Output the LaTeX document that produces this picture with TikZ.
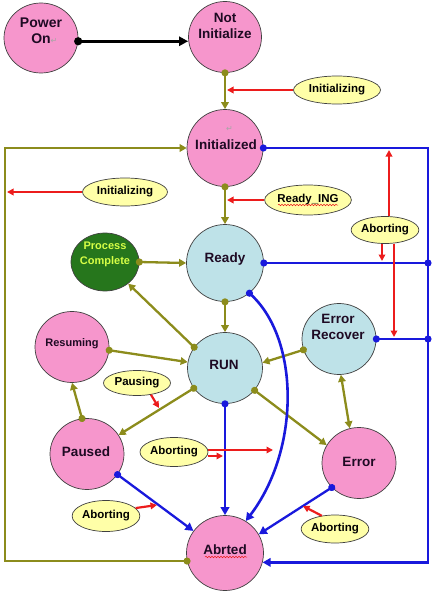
\documentclass[tikz,border=0pt]{standalone}
\usepackage{fontspec}
\setmainfont{Liberation Sans}
\newfontfamily\djv{DejaVu Sans}
\usetikzlibrary{shapes.geometric,arrows.meta,decorations.pathmorphing}
\definecolor{pinkf}{RGB}{246,150,204}
\definecolor{bluef}{RGB}{190,226,232}
\definecolor{greenf}{RGB}{38,118,28}
\definecolor{pctext}{RGB}{215,255,70}
\definecolor{yelf}{RGB}{255,255,168}
\definecolor{oliv}{RGB}{140,140,28}
\definecolor{bl}{RGB}{25,25,220}
\definecolor{rd}{RGB}{236,28,28}
\definecolor{txt}{RGB}{30,10,35}
\newcommand{\retmark}{{\djv\mdseries\color{black!35}\fontsize{8}{8}\selectfont ↵}}
\tikzset{
 state/.style={ellipse, draw=black!75, line width=0.7pt, inner sep=0pt},
 pk/.style={state, fill=pinkf},
 lbl/.style={state, fill=bluef},
 sz/.style 2 args={minimum width=#1, minimum height=#2},
 ctext/.style={align=center, font=\bfseries\fontsize{13.5}{16}\selectfont, text=txt, inner sep=0pt},
 stext/.style={ctext, font=\bfseries\fontsize{11}{15}\selectfont},
 tag/.style={ellipse, draw=black!75, line width=0.7pt, fill=yelf, inner sep=0pt, font=\bfseries\fontsize{11.5}{12}\selectfont, text=black},
 ol/.style={draw=oliv, line width=2.3pt, shorten <=-3.5pt, arrows={Circle[length=7pt]-Triangle[length=7pt,width=7.5pt]}},
 oltwo/.style={draw=oliv, line width=2.3pt, arrows={Triangle[length=7pt,width=7.5pt]-Triangle[length=7pt,width=7.5pt]}},
 bu/.style={draw=bl, line width=2.3pt, shorten <=-3.5pt, arrows={Circle[length=7pt]-Triangle[length=8pt,width=8.5pt]}},
 bujoin/.style={draw=bl, line width=2.3pt, shorten <=-3.5pt, shorten >=-3.5pt, arrows={Circle[length=7pt]-Circle[length=7pt]}},
 rdarr/.style={draw=rd, line width=2.2pt, arrows={-Triangle[length=6.5pt,width=6.5pt]}},
 blk/.style={draw=black, line width=3pt, shorten <=-4pt, arrows={Circle[length=8pt]-Triangle[length=9pt,width=9pt]}},
 wavy/.style={draw=rd, line width=0.5pt, decorate, decoration={snake, amplitude=0.8pt, segment length=3pt}}
}
\begin{document}
\begin{tikzpicture}[x=1pt,y=-1pt]
\useasboundingbox (0,0) rectangle (447,591);
% states
\node[pk, sz={74pt}{70pt}] (pwr) at (41,38) {};
\node[pk, sz={73pt}{71pt}] (ni) at (225,37) {};
\node[pk, sz={76pt}{77pt}] (init) at (225,148) {};
\node[lbl, sz={77pt}{77pt}] (ready) at (225,263) {};
\node[state, fill=greenf, sz={68pt}{58pt}] (pc) at (105,262) {};
\node[lbl, sz={75pt}{71pt}] (run) at (225,368) {};
\node[lbl, sz={74pt}{71pt}] (er) at (339,339) {};
\node[pk, sz={74pt}{71pt}] (res) at (72,347) {};
\node[pk, sz={74pt}{71pt}] (paused) at (87,454) {};
\node[pk, sz={74pt}{71pt}] (err) at (359,463) {};
\node[pk, sz={77pt}{75pt}] (abr) at (225,553) {};
% state texts
\node[ctext, font=\bfseries\fontsize{14}{16}\selectfont] (pwr-t) at (41,31) {Power\\On\rlap{\retmark}};
\node[ctext] (ni-t) at (225,26) {Not\\Initialize};
\node[ctext, font=\bfseries\fontsize{13.5}{18}\selectfont] (init-t) at (226,138) {\rlap{\retmark}\\Initialized};
\node[ctext] (ready-t) at (225,259) {Ready};
\node[stext, text=pctext] (pc-t) at (105,254) {Process\\Complete};
\node[ctext] (run-t) at (224,365) {RUN};
\node[ctext] (er-t) at (338,327) {Error\\Recover};
\node[stext] (res-t) at (72,344) {Resuming};
\node[ctext, font=\bfseries\fontsize{13.5}{16}\selectfont] (paused-t) at (86,452) {Paused};
\node[ctext] (err-t) at (359,462) {Error};
\node[ctext] (abr-t) at (225,550) {Abrted};
% tags
\node[tag, sz={87pt}{28pt}] (tagInitA) at (337,90) {Initializing};
\node[tag, sz={85pt}{28pt}] (tagInitB) at (125,192) {Initializing};
\node[tag, sz={86pt}{30pt}] (tagReady) at (308,200) {Ready\_ING};
\node[tag, sz={67pt}{27pt}] (abA) at (385,230) {Aborting};
\node[tag, sz={67pt}{25pt}] (pau) at (137,383) {Pausing};
\node[tag, sz={68pt}{29pt}] (abM) at (174,452) {Aborting};
\node[tag, sz={67pt}{31pt}] (abL) at (106,516) {Aborting};
\node[tag, sz={67pt}{28pt}] (abR) at (335,529) {Aborting};
% spell-check underlines
\draw[wavy] (205,557) -- (247,557);
\draw[wavy] (278,205) -- (338,205);
% helper coordinates
\coordinate (lc) at (5,300);
\coordinate (rc) at (428,300);
\coordinate (xa) at (389,0);
\coordinate (xb) at (382,0);
\coordinate (xc) at (394,0);
\coordinate (pauT) at (159,408);
\coordinate (abMT1) at (273,450);
\coordinate (abMT2) at (223,456);
\coordinate (abLT) at (157,505);
\coordinate (abRT) at (303,506);
% black
\draw[blk] (pwr.-5) -- (pwr.-5 -| ni.west);
% olive
\draw[ol] (ni.south) -- (init.north);
\draw[ol] (init.south) -- (ready.north);
\draw[ol] (pc.east) -- (ready.west);
\draw[ol] (run.146) -- (pc.-43);
\draw[ol] (ready.south) -- (run.north);
\draw[ol] (res.-5) -- (run.171);
\draw[ol] (er.197) -- (run.8);
\draw[ol] (run.213) -- (paused.31);
\draw[ol] (paused.98) -- (res.south);
\draw[ol] (run.-37) -- (err.151);
\draw[oltwo] (er.-87) -- (err.105);
\draw[ol] (abr.192) -| (lc) |- (init.west);
% blue
\draw[bu] (init.east) -| (rc) |- (abr.-14);
\draw[bujoin] (ready.east) -- (ready.east -| rc);
\draw[bujoin] (er.east) -- (er.east -| rc);
\draw[bu] (run.south) -- (abr.north);
\draw[bu, line width=2.6pt] (ready.-51) .. controls (300,340) and (300,450) .. (abr.57);
\draw[bu] (paused.-34) -- (abr.145);
\draw[bu] (err.222) -- (abr.29);
% red
\draw[rdarr] (tagInitA.west) -- ([xshift=2pt]tagInitA.west -| ni.south);
\draw[rdarr] (tagInitB.west) -- ([xshift=2pt]tagInitB.west -| lc);
\draw[rdarr] (tagReady.west) -- ([xshift=2pt]tagReady.west -| ready.north);
\draw[rdarr] (xa |- abA.north) -- ([yshift=-2pt]xa |- init.east);
\draw[rdarr] (xb |- abA.south) -- ([yshift=2pt]xb |- ready.east);
\draw[rdarr] (xc |- abA.south) -- ([yshift=2pt]xc |- er.east);
\draw[rdarr] (pau.-40) -- (pauT);
\draw[rdarr] ([yshift=2pt]abM.east) -- (abMT1);
\draw[rdarr] ([yshift=-4pt]abM.east) -- (abMT2);
\draw[rdarr] (abL.15) -- (abLT);
\draw[rdarr] (abR.135) -- (abRT);
\end{tikzpicture}
\end{document}
